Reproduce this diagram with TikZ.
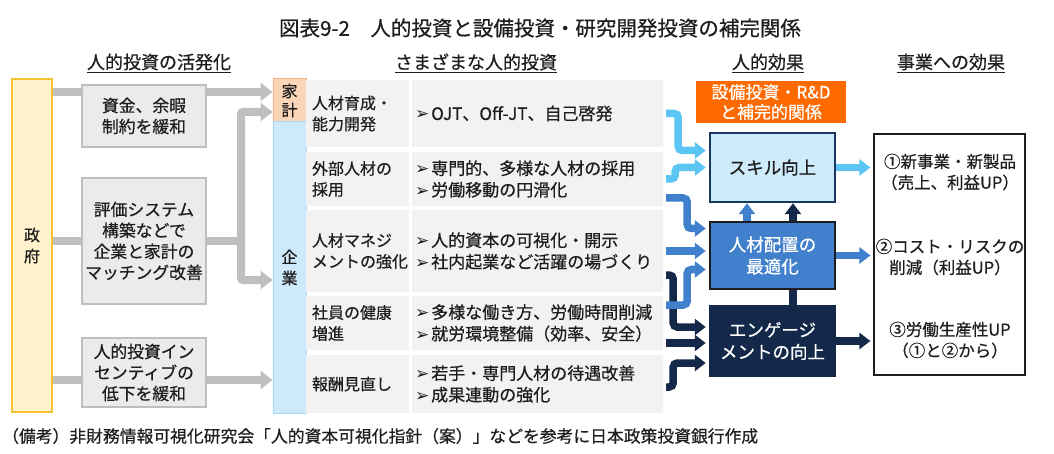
\documentclass[tikz,border=0pt]{standalone}
\usepackage{fontspec}
\setmainfont{Noto Sans CJK JP}[FakeBold=0.6]
\newfontfamily\dejavu{DejaVu Sans}
\usepackage{tikz}
\usetikzlibrary{positioning,arrows.meta,calc}
\usepackage{xcolor}
\definecolor{txtdark}{HTML}{1E1E1E}
\definecolor{govfill}{HTML}{FFF2CC}
\definecolor{govline}{HTML}{F2C230}
\definecolor{kakeifill}{HTML}{FBD5B7}
\definecolor{kakeiline}{HTML}{F4B183}
\definecolor{kigyofill}{HTML}{CDE9FB}
\definecolor{kigyoline}{HTML}{A9D8F5}
\definecolor{boxgray}{HTML}{EBEBEB}
\definecolor{linegray}{HTML}{BFBFBF}
\definecolor{rowgray}{HTML}{F2F2F2}
\definecolor{rdorange}{HTML}{FF6A00}
\definecolor{skillblue}{HTML}{5BC6F4}
\definecolor{skillfill}{HTML}{CDEBFB}
\definecolor{midblue}{HTML}{4080CC}
\definecolor{navy}{HTML}{14294A}
\definecolor{boxnavy}{HTML}{17375E}

\newcommand{\bul}{{\dejavu\fontsize{17}{17}\selectfont ➢}\hspace{2pt}}

\begin{document}
\begin{tikzpicture}[
    x=1pt, y=-1pt,
    font=\fontsize{16}{21}\selectfont, text=txtdark,
    header/.style={font=\fontsize{18}{20}\selectfont},
    govbox/.style={draw=govline, fill=govfill, line width=1.6pt, inner sep=0pt,
                   minimum width=40pt, minimum height=333pt, align=center},
    graybox/.style={draw=linegray, fill=boxgray, line width=2.5pt, inner sep=0pt,
                    minimum width=124pt, align=center, font=\fontsize{16.8}{21}\selectfont},
    sidebox/.style={inner sep=0pt, minimum width=33pt, align=center, line width=1pt},
    rowcat/.style={fill=rowgray, inner sep=0pt, minimum width=103pt},
    rowbody/.style={fill=rowgray, inner sep=0pt, minimum width=251pt},
    rowtext/.style={anchor=west, align=left, inner sep=0pt},
    bodytext/.style={rowtext, font=\fontsize{17}{21.5}\selectfont},
    effect/.style={draw, line width=2.5pt, inner sep=0pt, minimum width=125pt,
                   align=center, font=\fontsize{17.5}{22}\selectfont},
    restext/.style={align=center, font=\fontsize{16.5}{21}\selectfont},
    grayline/.style={draw=linegray, line width=8pt},
    grayarrow/.style={grayline, -{Triangle[length=12pt,width=18pt]}, rounded corners=2pt},
    lightarrow/.style={draw=skillblue, line width=7.5pt, rounded corners=4pt,
                       -{Triangle[length=11pt,width=16pt]}, shorten >=3pt},
    bluearrow/.style={lightarrow, draw=midblue},
    darkarrow/.style={lightarrow, draw=navy}
]
  \useasboundingbox (0,0) rectangle (1054,454);

  % Title and column headers
  \node[font=\fontsize{20.5}{24}\selectfont] (title) at (540,28) {図表9-2　人的投資と設備投資・研究開発投資の補完関係};
  \node[header] (h1) at (159,63) {\underline{人的投資の活発化}};
  \node[header] (h2) at (476,63) {\underline{さまざまな人的投資}};
  \node[header] (h3) at (768,63) {\underline{人的効果}};
  \node[header] (h4) at (951,63) {\underline{事業への効果}};

  % Government and policy boxes
  \node[govbox] (gov) at (32,245.5) {政\\府};
  \node[graybox, minimum height=62pt] (fund) at (144,116) {資金、余暇\\制約を緩和};
  \node[graybox, minimum height=126pt] (match) at (144,241) {評価システム\\構築などで\\企業と家計の\\マッチング改善};
  \node[graybox, minimum height=69pt] (incent) at (144,372.5) {人的投資イン\\センティブの\\低下を緩和};

  % Households and firms
  \node[sidebox, draw=kakeiline, fill=kakeifill, minimum height=43pt, font=\fontsize{16}{19}\selectfont] (kakei) at (289.5,100.5) {家\\計};
  \node[sidebox, draw=kigyoline, fill=kigyofill, minimum height=291pt] (kigyo) at (289.5,267.5) {企\\業};

  % Table of investments
  \node[rowcat, minimum height=67pt] (r1a) at (357.5,113.5) {};
  \node[rowbody, minimum height=67pt] (r1b) at (537.5,113.5) {};
  \node[rowcat, minimum height=54pt] (r2a) at (357.5,179) {};
  \node[rowbody, minimum height=54pt] (r2b) at (537.5,179) {};
  \node[rowcat, minimum height=82pt] (r3a) at (357.5,251) {};
  \node[rowbody, minimum height=82pt] (r3b) at (537.5,251) {};
  \node[rowcat, minimum height=54pt] (r4a) at (357.5,323) {};
  \node[rowbody, minimum height=54pt] (r4b) at (537.5,323) {};
  \node[rowcat, minimum height=58pt] (r5a) at (357.5,384) {};
  \node[rowbody, minimum height=58pt] (r5b) at (537.5,384) {};

  \node[rowtext] (t1a) at ([xshift=6pt]r1a.west) {人材育成・\\能力開発};
  \node[bodytext] (t1b) at ([xshift=3pt]r1b.west) {\bul OJT、Off-JT、自己啓発};
  \node[rowtext] (t2a) at ([xshift=6pt]r2a.west) {外部人材の\\採用};
  \node[bodytext] (t2b) at ([xshift=3pt]r2b.west) {\bul 専門的、多様な人材の採用\\\bul 労働移動の円滑化};
  \node[rowtext] (t3a) at ([xshift=6pt]r3a.west) {人材マネジ\\メントの強化};
  \node[bodytext] (t3b) at ([xshift=3pt]r3b.west) {\bul 人的資本の可視化・開示\\\bul 社内起業など活躍の場づくり};
  \node[rowtext] (t4a) at ([xshift=6pt]r4a.west) {社員の健康\\増進};
  \node[bodytext] (t4b) at ([xshift=3pt]r4b.west) {\bul 多様な働き方、労働時間削減\\\bul 就労環境整備（効率、安全）};
  \node[rowtext] (t5a) at ([xshift=6pt]r5a.west) {報酬見直し};
  \node[bodytext] (t5b) at ([xshift=3pt]r5b.west) {\bul 若手・専門人材の待遇改善\\\bul 成果連動の強化};

  % Human effects
  \node[fill=rdorange, text=white, minimum width=150pt, minimum height=42pt, inner sep=0pt,
        align=center, font=\fontsize{17}{20}\selectfont] (rd) at (771,102) {設備投資・R\&D\\と補完的関係};
  \node[effect, draw=boxnavy, fill=skillfill, minimum height=69pt] (skill) at (772.5,167.5) {スキル向上};
  \node[effect, draw=txtdark, fill=midblue, text=white, minimum height=67pt] (place) at (772.5,255.5) {人材配置の\\最適化};
  \node[effect, draw=navy, fill=navy, text=white, minimum height=69pt] (engage) at (772.5,341) {エンゲージ\\メントの向上};

  % Business effects
  \node[draw=txtdark, line width=1.2pt, fill=white, minimum width=151pt, minimum height=241pt] (result) at (949.5,254.5) {};
  \node[restext] (res1) at (950,172) {①新事業・新製品\\（売上、利益UP）};
  \node[restext] (res2) at (950,257) {②コスト・リスクの\\削減（利益UP）};
  \node[restext] (res3) at (950,340) {③労働生産性UP\\（①と②から）};

  % Policy arrows
  \coordinate (g1) at (0,92);
  \coordinate (g2) at (0,112);
  \coordinate (g3) at (0,280);
  \coordinate (g4) at (0,380);
  \coordinate (bus) at (241,241);
  \draw[grayline] (gov.east |- g1) -- (fund.west |- g1);
  \draw[grayarrow] (fund.east |- g1) -- (kakei.west |- g1);
  \draw[grayline] (gov.east |- match.west) -- (match.west);
  \draw[grayline] (match.east) -- (bus);
  \draw[grayarrow] (bus) |- (kakei.west |- g2);
  \draw[grayarrow] (bus) |- (kigyo.west |- g3);
  \draw[grayline] (gov.east |- g4) -- (incent.west |- g4);
  \draw[grayarrow] (incent.east |- g4) -- (kigyo.west |- g4);

  % Investment to effect arrows
  \draw[lightarrow] ([xshift=3pt]r1b.east) -- ++(12,0) |- ([yshift=17pt]skill.west);
  \draw[lightarrow] ([xshift=3pt]r2b.east) -- ++(9,0) |- (skill.west);
  \draw[bluearrow] ([xshift=3pt,yshift=-19pt]r2b.east) -- ++(21,0) |- ([yshift=27pt]place.west);
  \draw[bluearrow] ([xshift=3pt]r3b.east) -- (r3b.east -| place.west);
  \draw[darkarrow] ([xshift=3pt,yshift=-24pt]r3b.east) -- ++(7,0) |- ([yshift=14pt]engage.west);
  \draw[bluearrow] ([xshift=3pt,yshift=18pt]r4b.east) -- ++(21,0) |- ([yshift=-14pt]place.west);
  \draw[darkarrow] ([xshift=3pt,yshift=-20pt]r4b.east) -- ([yshift=-20pt]r4b.east -| engage.west);
  \draw[darkarrow] ([xshift=3pt,yshift=-3pt]r5b.east) -- ++(7,0) |- ([yshift=-22pt]engage.west);

  % Between effects
  \draw[bluearrow, shorten >=0pt] ([xshift=-25.5pt]place.north) -- ([xshift=-25.5pt]skill.south);
  \draw[darkarrow, shorten >=0pt] ([xshift=20.5pt]place.north) -- ([xshift=20.5pt]skill.south);
  \draw[navy, line width=7.5pt] ([xshift=20.5pt]engage.north) -- ([xshift=20.5pt]place.south);

  % Effects to business
  \draw[lightarrow] (skill.east) -- (skill.east -| result.west);
  \draw[bluearrow] (place.east) -- (place.east -| result.west);
  \draw[darkarrow] (engage.east) -- (engage.east -| result.west);

  % Note
  \node[anchor=west, inner sep=0pt, font=\fontsize{16.8}{19}\selectfont] (note) at (2,436) {（備考）非財務情報可視化研究会「人的資本可視化指針（案）」などを参考に日本政策投資銀行作成};
\end{tikzpicture}
\end{document}
